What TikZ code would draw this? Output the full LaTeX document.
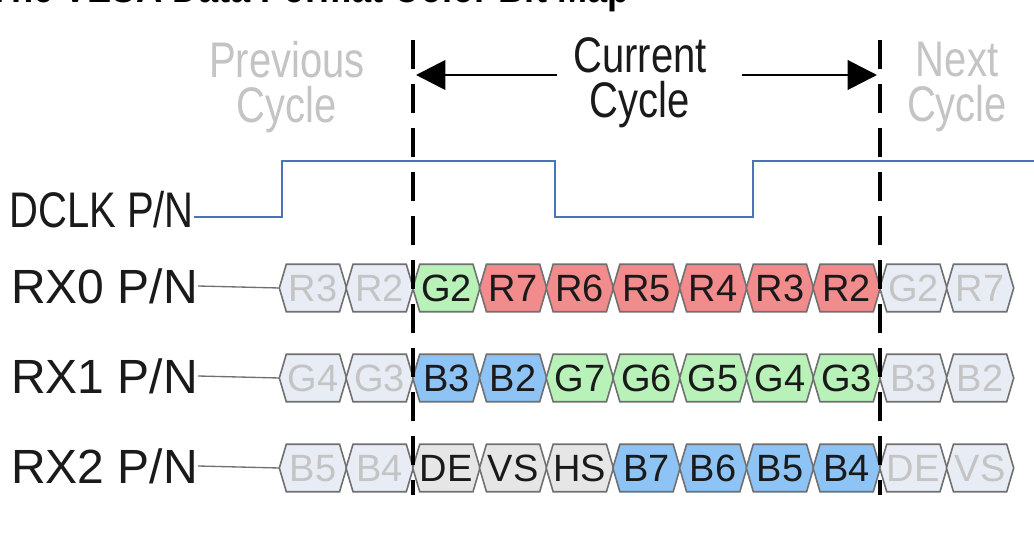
\documentclass[tikz,border=0pt]{standalone}
\usepackage{fontspec}
\setmainfont{Liberation Sans}[FakeStretch=0.8]
\newfontfamily\widesans{Liberation Sans}
\usetikzlibrary{arrows.meta,backgrounds}
\definecolor{clkblue}{HTML}{4A74B8}
\definecolor{hexgray}{HTML}{E8ECF4}
\definecolor{hexgreen}{HTML}{B8F2B8}
\definecolor{hexred}{HTML}{F28B8B}
\definecolor{hexblue}{HTML}{8EC3F5}
\definecolor{hexlg}{HTML}{E6E6E6}
\definecolor{hexedge}{HTML}{707070}
\definecolor{faint}{HTML}{C4C4C4}
\definecolor{ink}{HTML}{1A1A1A}
\tikzset{
  siglabel/.style={anchor=east,inner sep=0pt,text=ink,font=\fontsize{37.5}{31}\selectfont,text height=26.8pt,text depth=0pt},
  rxlabel/.style={siglabel,font=\widesans\fontsize{36}{31}\selectfont,text height=25.8pt},
  cyctext/.style={anchor=north,inner sep=0pt,align=center,font=\fontsize{37.5}{34}\selectfont},
  hexnode/.style={inner sep=0pt,minimum width=50.04pt,minimum height=35.25pt,font=\widesans\fontsize{28.5}{30}\selectfont,text height=20.4pt,text depth=0pt},
  hexpath/.style={draw=hexedge,line width=1.2pt,line join=miter},
  clkline/.style={draw=clkblue,line width=2pt},
  lead/.style={draw=hexedge,line width=1pt},
  cycdash/.style={draw=black,line width=2.3pt,dash pattern=on 22pt off 11pt},
  bigarrow/.style={draw=black,line width=2.2pt,-{Triangle[length=22pt,width=22pt]}},
  titletext/.style={anchor=base east,inner sep=0pt,font=\bfseries\fontsize{34}{40}\selectfont,text=black}
}
% name, slot index, row y, fill, text colour, text
\newcommand\hx[6]{%
  \node[hexnode,text=#5] (#1) at ({413+(#2+0.5)*66.714},#3) {#6};
  \begin{pgfonlayer}{background}
    \path[hexpath,fill=#4] (#1.west) -- ([xshift=5.25pt]#1.north west) -- ([xshift=-5.25pt]#1.north east)
      -- (#1.east) -- ([xshift=-5.25pt]#1.south east) -- ([xshift=5.25pt]#1.south west) -- cycle;
  \end{pgfonlayer}}
\begin{document}
\begin{tikzpicture}[x=0.75pt,y=-0.75pt]
\begin{pgfonlayer}{background}
\fill[white] (0,0) rectangle (1034,548);
\end{pgfonlayer}
\useasboundingbox (0,0) rectangle (1034,548);

% title (cut off by the top edge)
\node[titletext] (title) at (630,3) {The VESA Data Format Color Bit Map};

% cycle captions
\node[cyctext,text=faint] (prev) at (287,41) {Previous\\Cycle};
\node[cyctext,text=ink] (cur) at (640,37) {Current\\Cycle};
\node[cyctext,text=faint] (next) at (957,42) {Next\\Cycle};

% signal labels
\node[siglabel] (dclk) at (194,210) {DCLK P/N};
\node[rxlabel] (rx0) at (198,286) {RX0 P/N};
\node[rxlabel] (rx1) at (198,376) {RX1 P/N};
\node[rxlabel] (rx2) at (198,466) {RX2 P/N};

% clock
\coordinate (ck1) at (282,217);
\coordinate (ck2) at (282,161);
\coordinate (ck3) at (555,161);
\coordinate (ck4) at (555,217);
\coordinate (ck5) at (753,217);
\coordinate (ck6) at (753,161);
\coordinate (ck7) at (1034,161);
\draw[clkline] ([yshift=-5.25pt]dclk.east) -- (ck1) -- (ck2) -- (ck3) -- (ck4) -- (ck5) -- (ck6) -- (ck7);

% RX0
\hx{a0}{-2}{288}{hexgray}{faint}{R3}
\hx{a1}{-1}{288}{hexgray}{faint}{R2}
\hx{a2}{0}{288}{hexgreen}{ink}{G2}
\hx{a3}{1}{288}{hexred}{ink}{R7}
\hx{a4}{2}{288}{hexred}{ink}{R6}
\hx{a5}{3}{288}{hexred}{ink}{R5}
\hx{a6}{4}{288}{hexred}{ink}{R4}
\hx{a7}{5}{288}{hexred}{ink}{R3}
\hx{a8}{6}{288}{hexred}{ink}{R2}
\hx{a9}{7}{288}{hexgray}{faint}{G2}
\hx{a10}{8}{288}{hexgray}{faint}{R7}
% RX1
\hx{b0}{-2}{378}{hexgray}{faint}{G4}
\hx{b1}{-1}{378}{hexgray}{faint}{G3}
\hx{b2}{0}{378}{hexblue}{ink}{B3}
\hx{b3}{1}{378}{hexblue}{ink}{B2}
\hx{b4}{2}{378}{hexgreen}{ink}{G7}
\hx{b5}{3}{378}{hexgreen}{ink}{G6}
\hx{b6}{4}{378}{hexgreen}{ink}{G5}
\hx{b7}{5}{378}{hexgreen}{ink}{G4}
\hx{b8}{6}{378}{hexgreen}{ink}{G3}
\hx{b9}{7}{378}{hexgray}{faint}{B3}
\hx{b10}{8}{378}{hexgray}{faint}{B2}
% RX2
\hx{c0}{-2}{468}{hexgray}{faint}{B5}
\hx{c1}{-1}{468}{hexgray}{faint}{B4}
\hx{c2}{0}{468}{hexlg}{ink}{DE}
\hx{c3}{1}{468}{hexlg}{ink}{VS}
\hx{c4}{2}{468}{hexlg}{ink}{HS}
\hx{c5}{3}{468}{hexblue}{ink}{B7}
\hx{c6}{4}{468}{hexblue}{ink}{B6}
\hx{c7}{5}{468}{hexblue}{ink}{B5}
\hx{c8}{6}{468}{hexblue}{ink}{B4}
\hx{c9}{7}{468}{hexgray}{faint}{DE}
\hx{c10}{8}{468}{hexgray}{faint}{VS}

% lead lines
\draw[lead] (rx0.east) -- (a0.west);
\draw[lead] (rx1.east) -- (b0.west);
\draw[lead] (rx2.east) -- (c0.west);

% cycle boundaries
\coordinate (d1t) at (413,40);
\coordinate (d1b) at (413,495);
\coordinate (d2t) at (880,40);
\coordinate (d2b) at (880,495);
\draw[cycdash] (d1t) -- (d1b);
\draw[cycdash] (d2t) -- (d2b);

% current-cycle arrows
\coordinate (al1) at (557,75);
\coordinate (al2) at (416,75);
\coordinate (ar1) at (742,75);
\coordinate (ar2) at (877,75);
\draw[bigarrow] (al1) -- (al2);
\draw[bigarrow] (ar1) -- (ar2);
\end{tikzpicture}
\end{document}
